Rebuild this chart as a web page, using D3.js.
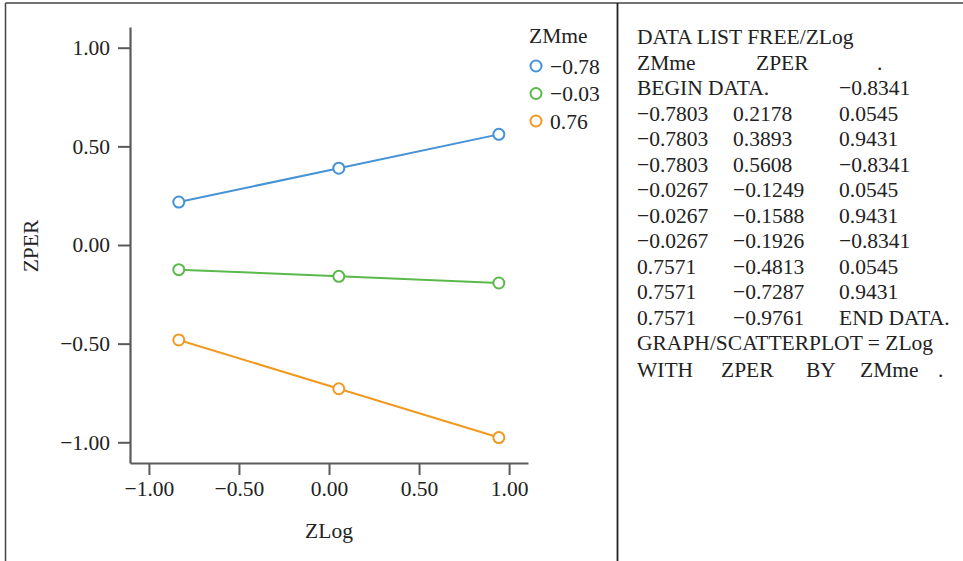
<!DOCTYPE html>
<html>
<head>
<meta charset="utf-8">
<script src="https://cdn.jsdelivr.net/npm/d3@7"></script>
<style>
  html, body { margin: 0; padding: 0; background: #fff; }
  svg { display: block; }
  text { font-family: "Liberation Serif", "Times New Roman", serif; fill: #222; }
</style>
</head>
<body>
<svg id="chart" width="963" height="561"></svg>
<script>
// ---- Data ----
const groups = ["\u22120.78", "\u22120.03", "0.76"];          // ZMme levels
const xValues = [-0.8341, 0.0545, 0.9431];                   // ZLog
const seriesBlue = [0.2178, 0.3893, 0.5608];                 // ZMme = -0.78
const seriesGreen = [-0.1249, -0.1588, -0.1926];             // ZMme = -0.03
const seriesOrange = [-0.4813, -0.7287, -0.9761];            // ZMme = 0.76
const xTicks = [-1, -0.5, 0, 0.5, 1];
const yTicks = [-1, -0.5, 0, 0.5, 1];
const syntaxLines = [
  ["DATA LIST FREE/ZLog"],
  ["ZMme", "ZPER", "."],
  ["BEGIN DATA.", "", "\u22120.8341"],
  ["\u22120.7803", "0.2178", "0.0545"],
  ["\u22120.7803", "0.3893", "0.9431"],
  ["\u22120.7803", "0.5608", "\u22120.8341"],
  ["\u22120.0267", "\u22120.1249", "0.0545"],
  ["\u22120.0267", "\u22120.1588", "0.9431"],
  ["\u22120.0267", "\u22120.1926", "\u22120.8341"],
  ["0.7571", "\u22120.4813", "0.0545"],
  ["0.7571", "\u22120.7287", "0.9431"],
  ["0.7571", "\u22120.9761", "END DATA."],
  ["GRAPH/SCATTERPLOT = ZLog"],
  ["WITH", "ZPER", "BY", "ZMme", "."]
];

const colors = ["#4592d6", "#5bb94b", "#f1991f"];
const series = [seriesBlue, seriesGreen, seriesOrange];
const FS = 21.5;

const svg = d3.select("#chart");

// Frame
svg.append("line").attr("x1", 5.5).attr("x2", 963).attr("y1", 3).attr("y2", 3)
  .attr("stroke", "#444").attr("stroke-width", 1.5);
svg.append("line").attr("x1", 5.5).attr("x2", 5.5).attr("y1", 3).attr("y2", 561)
  .attr("stroke", "#444").attr("stroke-width", 1.5);
svg.append("line").attr("x1", 617.5).attr("x2", 617.5).attr("y1", 3).attr("y2", 561)
  .attr("stroke", "#222").attr("stroke-width", 1.8);

// Scales
const x = d3.scaleLinear().domain([-1.105, 1.105]).range([130, 528]);
const y = d3.scaleLinear().domain([-1.105, 1.105]).range([463, 27]);
const fmt = d3.format(".2f");
const axisColor = "#5a5a5a";

// Y axis
const gy = svg.append("g").attr("transform", "translate(130,0)")
  .call(d3.axisLeft(y).tickValues(yTicks).tickFormat(fmt).tickSizeInner(12).tickSizeOuter(0).tickPadding(8));
gy.select(".domain").attr("stroke", axisColor).attr("stroke-width", 2.2);
gy.selectAll(".tick line").attr("stroke", axisColor).attr("stroke-width", 2);
gy.selectAll(".tick text").attr("font-size", FS).attr("font-family", "Liberation Serif").attr("fill", "#222");

// X axis
const gx = svg.append("g").attr("transform", "translate(0,463)")
  .call(d3.axisBottom(x).tickValues(xTicks).tickFormat(fmt).tickSizeInner(12).tickSizeOuter(0).tickPadding(6));
gx.select(".domain").attr("stroke", axisColor).attr("stroke-width", 2.2);
gx.selectAll(".tick line").attr("stroke", axisColor).attr("stroke-width", 2);
gx.selectAll(".tick text").attr("font-size", FS).attr("font-family", "Liberation Serif").attr("fill", "#222");

// Axis titles
svg.append("text").attr("x", 329).attr("y", 538).attr("text-anchor", "middle")
  .attr("font-size", FS).text("ZLog");
svg.append("text").attr("transform", "translate(38,246) rotate(-90)").attr("text-anchor", "middle")
  .attr("font-size", FS).text("ZPER");

// Lines and points
const line = d3.line().x((d, i) => x(xValues[i])).y(d => y(d));
series.forEach((s, k) => {
  svg.append("path").datum(s).attr("d", line).attr("fill", "none")
    .attr("stroke", colors[k]).attr("stroke-width", 2);
  svg.selectAll(null).data(s).enter().append("circle")
    .attr("cx", (d, i) => x(xValues[i])).attr("cy", d => y(d)).attr("r", 5.5)
    .attr("fill", "#fff").attr("stroke", colors[k]).attr("stroke-width", 2);
});

// Legend
svg.append("text").attr("x", 529).attr("y", 43).attr("font-size", FS).text("ZMme");
groups.forEach((g, i) => {
  const cy = 66 + i * 27.5;
  svg.append("circle").attr("cx", 536).attr("cy", cy).attr("r", 5.5)
    .attr("fill", "#fff").attr("stroke", colors[i]).attr("stroke-width", 2);
  svg.append("text").attr("x", 550).attr("y", cy + 7.5).attr("font-size", FS).text(g);
});

// Syntax panel
syntaxLines.forEach((row, r) => {
  const by = 44 + r * 25.5 + (r === 13 ? 1.5 : 0);
  let xs;
  if (row.length === 1) xs = [637];
  else if (row.length === 5) xs = [637, 721, 806, 860, 938];
  else if (r === 1) xs = [637, 756, 877];
  else xs = [637, 733, 839];
  row.forEach((t, c) => {
    if (!t) return;
    svg.append("text").attr("x", xs[c]).attr("y", by).attr("font-size", FS).text(t);
  });
});
</script>
</body>
</html>
